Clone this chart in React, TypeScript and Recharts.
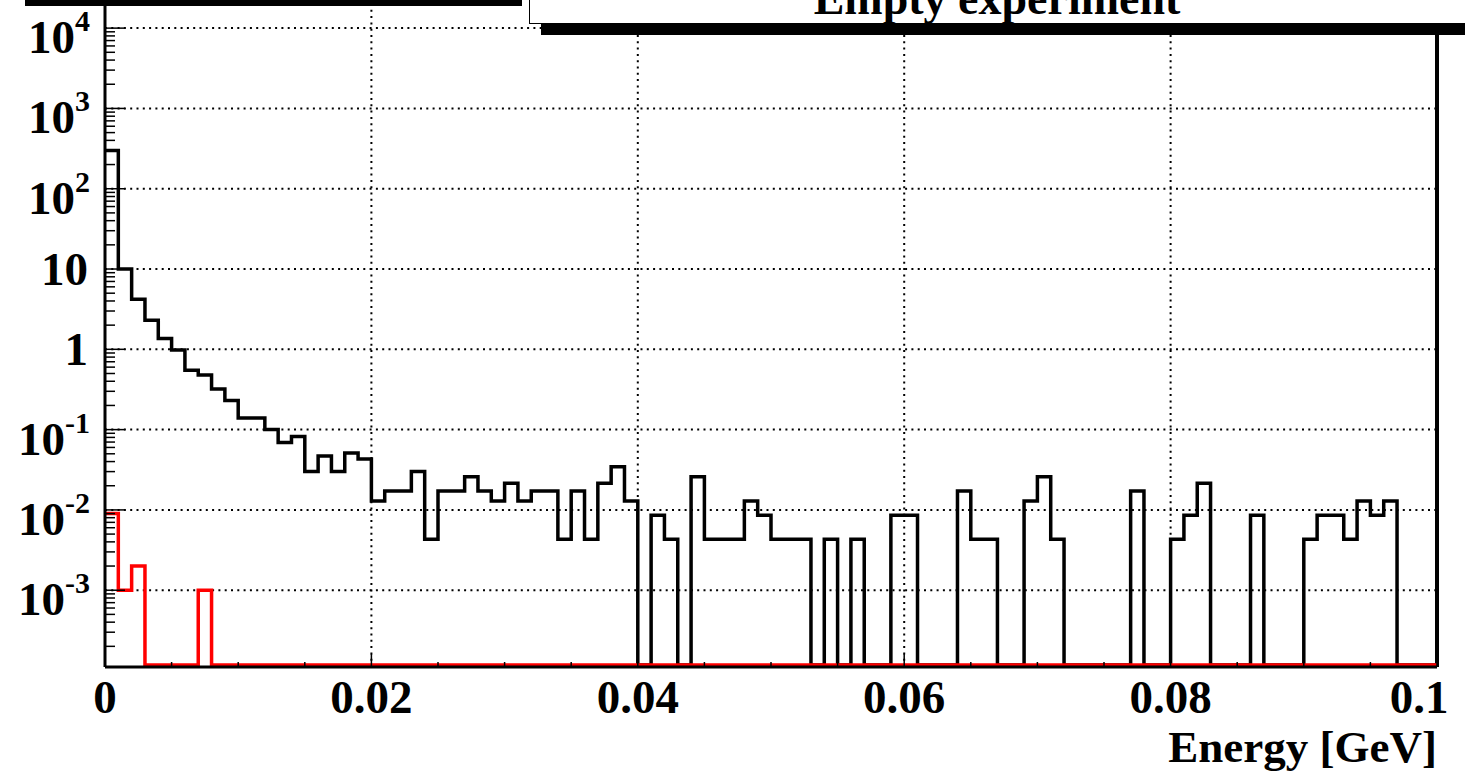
import React from 'react';
import { LineChart, Line, XAxis, YAxis, ReferenceLine, Label } from 'recharts';

// histogram contents, one value per 0.001 GeV bin (0 .. 0.1 GeV)
const BIN_WIDTH = 0.001;
const BLACK_COUNTS = [
  300, 10, 4.2, 2.3, 1.36, 0.98, 0.55, 0.48, 0.32, 0.23,
  0.14, 0.14, 0.1, 0.069, 0.082, 0.03, 0.047, 0.03, 0.051, 0.043,
  0.0129, 0.0172, 0.0172, 0.0301, 0.0043, 0.0172, 0.0172, 0.0258, 0.0172, 0.0129,
  0.0215, 0.0129, 0.0172, 0.0172, 0.0043, 0.0172, 0.0043, 0.0215, 0.0344, 0.0129,
  0, 0.0086, 0.0043, 0, 0.0258, 0.0043, 0.0043, 0.0043, 0.0129, 0.0086,
  0.0043, 0.0043, 0.0043, 0, 0.0043, 0, 0.0043, 0, 0, 0.0086,
  0.0086, 0, 0, 0, 0.0172, 0.0043, 0.0043, 0, 0, 0.0129,
  0.0258, 0.0043, 0, 0, 0, 0, 0, 0.0172, 0, 0,
  0.0043, 0.0086, 0.0215, 0, 0, 0, 0.0086, 0, 0, 0,
  0.0043, 0.0086, 0.0086, 0.0043, 0.0129, 0.0086, 0.0129, 0, 0, 0,
];
const RED_COUNTS = [
  0.009, 0.001, 0.002, 0, 0, 0, 0, 0.001, 0, 0,
  0, 0, 0, 0, 0, 0, 0, 0, 0, 0,
  0, 0, 0, 0, 0, 0, 0, 0, 0, 0,
  0, 0, 0, 0, 0, 0, 0, 0, 0, 0,
  0, 0, 0, 0, 0, 0, 0, 0, 0, 0,
  0, 0, 0, 0, 0, 0, 0, 0, 0, 0,
  0, 0, 0, 0, 0, 0, 0, 0, 0, 0,
  0, 0, 0, 0, 0, 0, 0, 0, 0, 0,
  0, 0, 0, 0, 0, 0, 0, 0, 0, 0,
  0, 0, 0, 0, 0, 0, 0, 0, 0, 0,
];

const TITLE = 'Empty experiment';
const X_TITLE = 'Energy [GeV]';
const Y_MIN = 1.106e-4;
const Y_MAX = 2.24e4;
const ZERO_LEVEL = 1.17e-4; // empty bins sit on the frame bottom
const Y_DECADES = [1e-3, 1e-2, 1e-1, 1, 10, 1e2, 1e3, 1e4];
const X_GRID = [0.02, 0.04, 0.06, 0.08];
const X_LABEL_VALUES = [0, 0.02, 0.04, 0.06, 0.08, 0.1];
const X_LABEL_TEXT = ['0', '0.02', '0.04', '0.06', '0.08', '0.1'];
const X_TICKS = Array.from({ length: 21 }, (_, i) => Math.round(i * 5) / 1000);

const Y_TICKS: number[] = [];
for (let e = -4; e <= 3; e++) {
  for (let m = 1; m <= 9; m++) {
    const v = m * Math.pow(10, e);
    if (v >= Y_MIN) Y_TICKS.push(v);
  }
}
Y_TICKS.push(1e4);

const FONT = "'Liberation Serif', 'Times New Roman', serif";
const LABEL_SIZE = 47;

const data = BLACK_COUNTS.map((v, i) => ({
  x: i * BIN_WIDTH,
  black: v > 0 ? v : ZERO_LEVEL,
  red: RED_COUNTS[i] > 0 ? RED_COUNTS[i] : ZERO_LEVEL,
}));
data.push({
  x: BLACK_COUNTS.length * BIN_WIDTH,
  black: data[data.length - 1].black,
  red: data[data.length - 1].red,
});

const YTick = (props: any) => {
  const { x, y, payload } = props;
  const v = payload.value;
  const exp = Math.round(Math.log10(v));
  const major = Math.abs(v - Math.pow(10, exp)) < v * 1e-6;
  let label = null;
  if (major && exp >= -3) {
    if (exp === 0 || exp === 1) {
      label = (
        <text x={x - 17} y={y + 16} textAnchor="end" fontFamily={FONT} fontWeight="bold" fontSize={LABEL_SIZE} fill="#000">
          {exp === 0 ? '1' : '10'}
        </text>
      );
    } else {
      label = (
        <text x={x - 15} y={y + 25} textAnchor="end" fontFamily={FONT} fontWeight="bold" fill="#000">
          <tspan fontSize={LABEL_SIZE}>10</tspan>
          <tspan fontSize={30} dy={-22}>{exp}</tspan>
        </text>
      );
    }
  }
  return (
    <g>
      <line x1={x} x2={x + (major ? 20 : 10)} y1={y} y2={y} stroke="#000" strokeWidth={1.5} />
      {label}
    </g>
  );
};

const XTick = (props: any) => {
  const { x, y, payload } = props;
  const v = payload.value;
  const idx = X_LABEL_VALUES.findIndex((l) => Math.abs(l - v) < 1e-9);
  const last = idx === X_LABEL_VALUES.length - 1;
  return (
    <g>
      <line x1={x} x2={x} y1={y} y2={y - (idx >= 0 ? 13 : 5)} stroke="#000" strokeWidth={1.5} />
      {idx >= 0 && (
        <text x={x + (last ? -18 : 0)} y={y + 46} textAnchor="middle" fontFamily={FONT} fontWeight="bold" fontSize={LABEL_SIZE} fill="#000">
          {X_LABEL_TEXT[idx]}
        </text>
      )}
    </g>
  );
};

const XTitle = (props: any) => {
  const { viewBox } = props;
  return (
    <text x={viewBox.x + viewBox.width} y={viewBox.y + 95} textAnchor="end" fontFamily={FONT} fontWeight="bold" fontSize={45} fill="#000">
      {X_TITLE}
    </text>
  );
};

export default function App() {
  return (
    <div style={{ position: 'absolute', left: 0, top: 0, width: 1465, height: 774, background: '#fff', overflow: 'hidden' }}>
      <LineChart width={1465} height={774} data={data} margin={{ top: 0, right: 28, bottom: 0, left: 0 }}>
        <XAxis
          type="number"
          dataKey="x"
          domain={[0, 0.1]}
          ticks={X_TICKS}
          interval={0}
          height={107}
          tickSize={0}
          tickMargin={0}
          tickLine={false}
          tick={<XTick />}
          axisLine={{ stroke: '#000', strokeWidth: 3 }}
          allowDataOverflow
        >
          <Label content={<XTitle />} />
        </XAxis>
        <YAxis
          type="number"
          scale="log"
          domain={[Y_MIN, Y_MAX]}
          allowDataOverflow
          ticks={Y_TICKS}
          interval={0}
          width={105}
          tickSize={0}
          tickMargin={0}
          tickLine={false}
          tick={<YTick />}
          axisLine={{ stroke: '#000', strokeWidth: 3 }}
        />
        {Y_DECADES.map((v) => (
          <ReferenceLine key={'h' + v} y={v} stroke="#000" strokeWidth={2} strokeDasharray="2 4.3" />
        ))}
        {X_GRID.map((v) => (
          <ReferenceLine key={'v' + v} x={v} stroke="#000" strokeWidth={2} strokeDasharray="2 4.3" />
        ))}
        <ReferenceLine x={0.1} stroke="#000" strokeWidth={4} />
        <Line type="stepAfter" dataKey="black" stroke="#000" strokeWidth={3.5} dot={false} activeDot={false} isAnimationActive={false} strokeLinejoin="miter" />
        <Line type="stepAfter" dataKey="red" stroke="#ff0000" strokeWidth={3.5} dot={false} activeDot={false} isAnimationActive={false} strokeLinejoin="miter" />
      </LineChart>
      {/* shadow of a box above the frame, top left */}
      <div style={{ position: 'absolute', left: 25, top: 0, width: 497, height: 6, background: '#000' }} />
      {/* title pave with shadow */}
      <div style={{ position: 'absolute', left: 541, top: -20, width: 960, height: 55, background: '#000' }} />
      <div
        style={{
          position: 'absolute',
          left: 529,
          top: -40,
          width: 960,
          height: 64,
          background: '#fff',
          border: '1px solid #000',
          boxSizing: 'border-box',
        }}
      />
      <div
        style={{
          position: 'absolute',
          left: 529,
          top: 14 - 45,
          width: 936,
          height: 46,
          lineHeight: '46px',
          textAlign: 'center',
          fontFamily: FONT,
          fontWeight: 'bold',
          fontSize: 46,
          whiteSpace: 'nowrap',
        }}
      >
        <span style={{ position: 'relative', top: 7 }}>{TITLE}</span>
      </div>
    </div>
  );
}
